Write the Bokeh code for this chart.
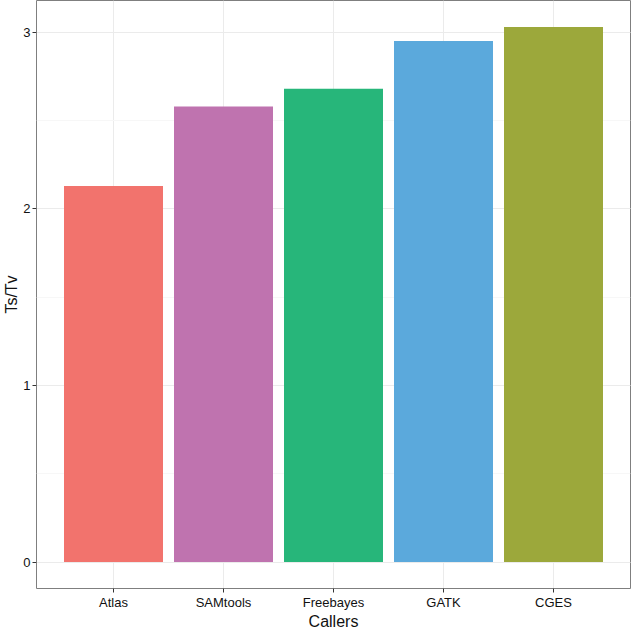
from bokeh.plotting import figure
from bokeh.models import ColumnDataSource, FactorRange, Range1d, SingleIntervalTicker
from bokeh.embed import file_html
from bokeh.resources import INLINE

callers = ["Atlas", "SAMtools", "Freebayes", "GATK", "CGES"]
ts_tv = [2.13, 2.58, 2.68, 2.95, 3.03]
colors = ["#F2736D", "#BF73AF", "#27B67A", "#5BA9DC", "#9CA83B"]

src = ColumnDataSource(dict(caller=callers, val=ts_tv, color=colors))

p = figure(width=631, height=632, output_backend="svg", toolbar_location=None,
           x_range=FactorRange(factors=callers, range_padding=0.2, range_padding_units="absolute"),
           y_range=Range1d(-0.15, 3.18),
           min_border_left=0, min_border_right=1, min_border_top=0, min_border_bottom=0)

p.vbar(x="caller", top="val", width=0.9, fill_color="color", line_color=None, source=src)

p.background_fill_color = "white"
p.border_fill_color = "white"
p.outline_line_color = "#7F7F7F"
p.outline_line_width = 1

p.xgrid.grid_line_color = "#EBEBEB"
p.ygrid.grid_line_color = "#EBEBEB"
p.ygrid.minor_grid_line_color = "#F7F7F7"
p.yaxis.ticker = SingleIntervalTicker(interval=1, num_minor_ticks=2)

for ax in (p.xaxis[0], p.yaxis[0]):
    ax.axis_line_color = None
    ax.major_tick_line_color = "#333333"
    ax.major_tick_out = 4
    ax.major_tick_in = 0
    ax.minor_tick_line_color = None
    ax.major_label_text_font = "Liberation Sans"
    ax.major_label_text_font_size = "13px"
    ax.major_label_text_color = "#111111"
    ax.axis_label_text_font = "Liberation Sans"
    ax.axis_label_text_font_size = "16px"
    ax.axis_label_text_font_style = "normal"
    ax.axis_label_text_color = "#111111"
    ax.major_label_standoff = 2
    ax.axis_label_standoff = 0

p.xaxis.axis_label = "Callers"
p.yaxis.axis_label = "Ts/Tv"

open("out.html", "w").write(file_html(p, INLINE))
